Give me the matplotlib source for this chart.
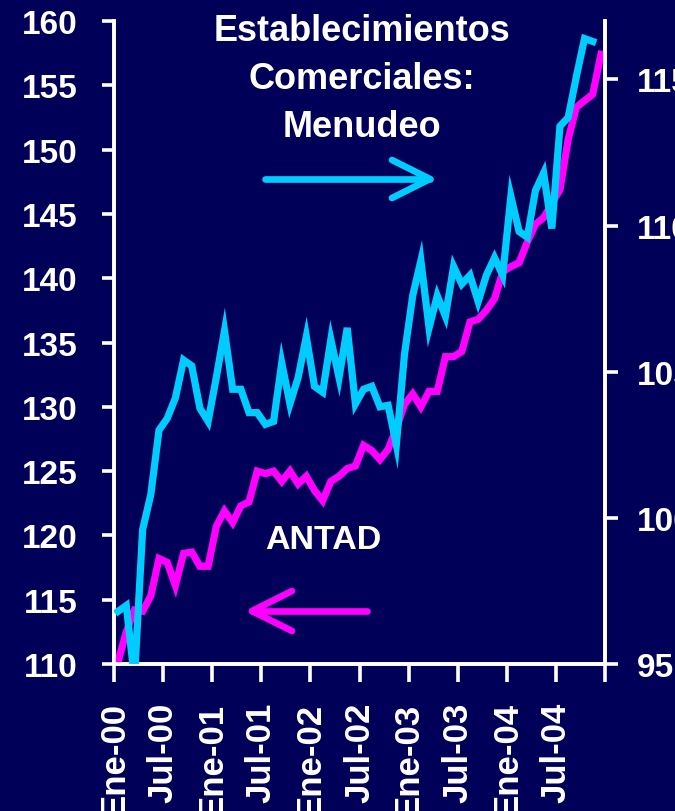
import numpy as np
import matplotlib
matplotlib.use("Agg")
import matplotlib.pyplot as plt

plt.rcParams['font.family'] = ['Liberation Sans', 'DejaVu Sans']
plt.rcParams['font.weight'] = 'bold'

# ---- data ----
tick_labels = ["Ene-00", "Jul-00", "Ene-01", "Jul-01", "Ene-02", "Jul-02",
               "Ene-03", "Jul-03", "Ene-04", "Jul-04"]

antad = [110.2, 112.5, 114.2, 114.1, 115.3, 118.2, 117.9, 116.1, 118.6, 118.7,
         117.6, 117.6, 120.7, 121.9, 121.0, 122.3, 122.6, 125.0, 124.8, 125.0,
         124.2, 125.0, 124.0, 124.6, 123.5, 122.7, 124.2, 124.6, 125.2, 125.4,
         127.0, 126.6, 125.9, 126.7, 128.3, 130.2, 131.0, 130.0, 131.2, 131.2,
         133.9, 133.9, 134.3, 136.6, 136.8, 137.5, 138.4, 140.5, 140.9, 141.2,
         142.8, 144.2, 144.7, 145.8, 146.9, 150.8, 153.3, 153.8, 154.3, 157.4]

comerciales = [96.8, 97.0, 94.5, 99.6, 100.8, 103.0, 103.4, 104.1, 105.4, 105.2,
               103.75, 103.3, 104.8, 106.4, 104.4, 104.4, 103.6, 103.6, 103.2, 103.3,
               105.3, 103.9, 104.8, 106.2, 104.5, 104.3, 106.1, 104.8, 106.5, 103.9,
               104.4, 104.5, 103.8, 103.85, 102.5, 105.6, 107.6, 108.8, 106.5, 107.6,
               106.9, 108.6, 108.0, 108.3, 107.4, 108.3, 108.9, 108.3, 111.0, 109.8,
               109.6, 111.2, 111.8, 109.9, 113.4, 113.7, 115.1, 116.4, 116.3]

BG = '#000058'
CYAN = '#00CCFF'
MAGENTA = '#FF00FF'
WHITE = 'white'

fig = plt.figure(figsize=(6.75, 8.12), dpi=100, facecolor=BG)
W, H = 675, 812
x0, x1, ytop, ybot = 114, 605, 22, 665
ax = fig.add_axes([x0 / W, (H - ybot) / H, (x1 - x0) / W, (ybot - ytop) / H])
ax.set_facecolor(BG)
ax2 = ax.twinx()

xa = np.arange(len(antad)) + 0.5
xc = np.arange(len(comerciales)) + 0.5

ax.plot(xa, antad, color=MAGENTA, lw=5.2, solid_joinstyle='miter', zorder=3)
ax2.plot(xc, comerciales, color=CYAN, lw=5.2, solid_joinstyle='miter', zorder=3)

ax.set_xlim(0, 60)
ax.set_ylim(110, 160)
ax2.set_ylim(95, 117)

ax.set_yticks(np.arange(110, 161, 5))
ax2.set_yticks(np.arange(95, 116, 5))
ax.set_xticks(np.arange(0, 61, 6))
ax.set_xticklabels(tick_labels + [""], rotation=90, va='top', ha='center')

for a in (ax, ax2):
    a.spines['top'].set_visible(False)
    for s in ('left', 'right', 'bottom'):
        a.spines[s].set_color(WHITE)
        a.spines[s].set_linewidth(2.6)
        a.spines[s].set_capstyle('projecting')

ax.tick_params(axis='y', colors=WHITE, labelsize=24, length=9, width=2.6,
               direction='out', pad=17)
ax.tick_params(axis='x', colors=WHITE, labelsize=25, length=13, width=2.6,
               direction='out', pad=14)
ax2.tick_params(axis='y', colors=WHITE, labelsize=24, length=9, width=2.6,
                direction='out', pad=14)
for lab in ax.get_yticklabels() + ax.get_xticklabels() + ax2.get_yticklabels():
    lab.set_fontweight('bold')

# annotations
ax.text(0.505, 0.910, "Establecimientos\nComerciales:\nMenudeo", transform=ax.transAxes,
        ha='center', va='center', color=WHITE, fontsize=26, fontweight='bold',
        linespacing=1.48, zorder=5)
ax.text(0.4257, 0.194, "ANTAD", transform=ax.transAxes, ha='center', va='center',
        color=WHITE, fontsize=24.5, fontweight='bold', zorder=5)

def px(xp, yp):
    return (xp - x0) / (x1 - x0), (ybot - yp) / (ybot - ytop)

def arrow(tail, tip, w1, w2, color):
    pts = [px(*tail), px(*tip)]
    ax.plot([p[0] for p in pts], [p[1] for p in pts], color=color, lw=4.8,
            solid_capstyle='round', transform=ax.transAxes, clip_on=False, zorder=6)
    pts = [px(*w1), px(*tip), px(*w2)]
    ax.plot([p[0] for p in pts], [p[1] for p in pts], color=color, lw=4.8,
            solid_capstyle='round', solid_joinstyle='round',
            transform=ax.transAxes, clip_on=False, zorder=6)

arrow((265, 180), (430, 180), (392, 161), (392, 199), CYAN)
arrow((367, 612), (252, 612), (292, 592), (292, 632), MAGENTA)

fig.savefig("out.png", dpi=100, facecolor=BG)
